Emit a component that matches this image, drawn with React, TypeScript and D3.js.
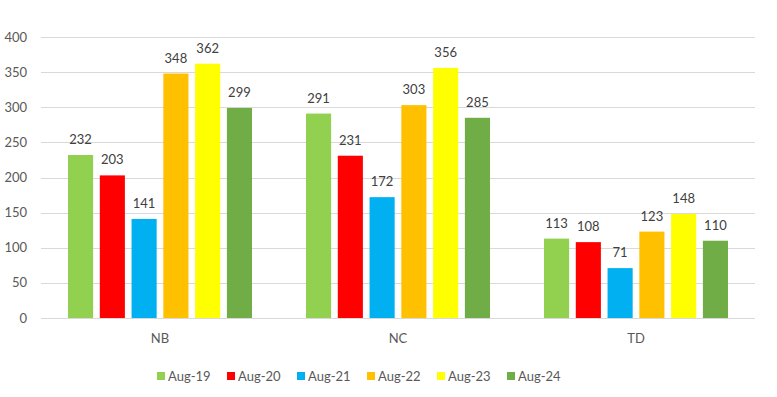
import React, { useEffect, useRef } from 'react';
import * as d3 from 'd3';

const width = 777,
  height = 397;

const categories = ['NB', 'NC', 'TD'];
const seriesNames = ['Aug-19', 'Aug-20', 'Aug-21', 'Aug-22', 'Aug-23', 'Aug-24'];
const seriesColors = ['#92D050', '#FF0000', '#00B0F0', '#FFC000', '#FFFF00', '#70AD47'];

// one row per category, one value per month
const aug19 = [232, 291, 113];
const aug20 = [203, 231, 108];
const aug21 = [141, 172, 71];
const aug22 = [348, 303, 123];
const aug23 = [362, 356, 148];
const aug24 = [299, 285, 110];

const yTicks = [0, 50, 100, 150, 200, 250, 300, 350, 400];

const series = [aug19, aug20, aug21, aug22, aug23, aug24];

const font = 'Lato, "Open Sans", sans-serif';

export default function App() {
  const ref = useRef<SVGSVGElement>(null);

  useEffect(() => {
    const svg = d3.select(ref.current);
    svg.selectAll('*').remove();

    const x0 = d3.scaleBand<string>()
      .domain(categories)
      .range([41, 755])
      .paddingInner(0.227)
      .paddingOuter(0.1135);

    const x1 = d3.scaleBand<string>()
      .domain(seriesNames)
      .range([0, x0.bandwidth()])
      .paddingInner(0.21);

    const y = d3.scaleLinear()
      .domain([0, 400])
      .range([318, 37]);

    // gridlines
    svg.append('g')
      .selectAll('line')
      .data(yTicks)
      .enter().append('line')
      .attr('x1', 41)
      .attr('x2', 755)
      .attr('y1', d => Math.round(y(d)) + 0.5)
      .attr('y2', d => Math.round(y(d)) + 0.5)
      .style('stroke', '#d9d9d9')
      .style('stroke-width', 1);

    // y labels
    svg.append('g')
      .selectAll('text')
      .data(yTicks)
      .enter().append('text')
      .attr('x', 27)
      .attr('y', d => y(d))
      .attr('dy', '0.35em')
      .attr('text-anchor', 'end')
      .style('font-family', font)
      .style('font-size', '13px')
      .style('fill', '#595959')
      .text(d => d);

    // bars
    const rows = categories.map((c, i) => ({
      cat: c,
      vals: seriesNames.map((s, j) => ({ s, v: series[j][i], color: seriesColors[j] })),
    }));

    const groups = svg.append('g')
      .selectAll('g')
      .data(rows)
      .enter().append('g')
      .attr('transform', d => 'translate(' + x0(d.cat) + ',0)');

    groups.selectAll('rect')
      .data(d => d.vals)
      .enter().append('rect')
      .attr('x', d => x1(d.s) as number)
      .attr('width', x1.bandwidth())
      .attr('y', d => y(d.v))
      .attr('height', d => y(0) - y(d.v))
      .style('fill', d => d.color);

    groups.selectAll('text')
      .data(d => d.vals)
      .enter().append('text')
      .attr('x', d => (x1(d.s) as number) + x1.bandwidth() / 2)
      .attr('y', d => y(d.v) - 11)
      .attr('text-anchor', 'middle')
      .style('font-family', font)
      .style('font-size', '13px')
      .style('fill', '#404040')
      .text(d => d.v);

    // category labels
    svg.append('g')
      .selectAll('text')
      .data(categories)
      .enter().append('text')
      .attr('x', d => (x0(d) as number) + x0.bandwidth() / 2)
      .attr('y', 343)
      .attr('text-anchor', 'middle')
      .style('font-family', font)
      .style('font-size', '13px')
      .style('fill', '#595959')
      .text(d => d);

    // legend
    const legend = svg.append('g')
      .selectAll('g')
      .data(seriesNames)
      .enter().append('g')
      .attr('transform', (d, i) => 'translate(' + (157 + i * 70) + ',376)');

    legend.append('rect')
      .attr('x', 0)
      .attr('y', -4)
      .attr('width', 8)
      .attr('height', 8)
      .style('fill', (d, i) => seriesColors[i]);

    legend.append('text')
      .attr('x', 11)
      .attr('y', 0)
      .attr('dy', '0.35em')
      .style('font-family', font)
      .style('font-size', '13px')
      .style('fill', '#595959')
      .text(d => d);
  }, []);

  return (
    <svg
      ref={ref}
      width={width}
      height={height}
      style={{ position: 'absolute', left: 0, top: 0, background: '#fff' }}
    />
  );
}
